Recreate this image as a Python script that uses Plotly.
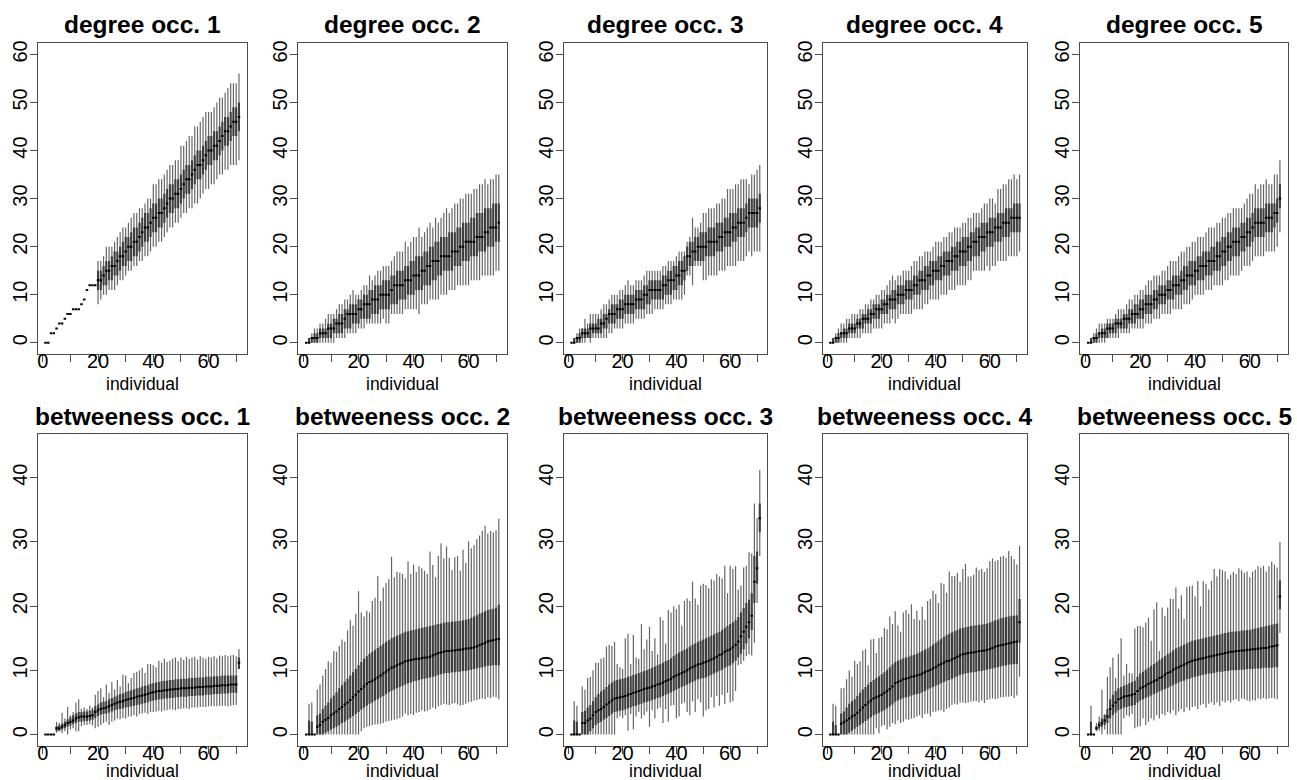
import plotly.graph_objects as go

# ---------------- data ----------------
individual = list(range(1, 72))

titles = ["degree occ. 1", "degree occ. 2", "degree occ. 3", "degree occ. 4", "degree occ. 5",
          "betweeness occ. 1", "betweeness occ. 2", "betweeness occ. 3", "betweeness occ. 4", "betweeness occ. 5"]

x_tickvals = [0, 10, 20, 30, 40, 50, 60, 70]
x_ticktext = ["0", "", "20", "", "40", "", "60", ""]
deg_yticks = [0, 10, 20, 30, 40, 50, 60]
bet_yticks = [0, 10, 20, 30, 40]

# degree occ. 1
d1_med = [0,0,2,2,3,4,4,5,6,6, 7,7,7,8,9,11,12,12,12,13, 13,14,15,15,16,16,17,18,18,19,
          20,20,21,21,22,23,24,24,25,26, 26,27,27,28,29,30,30,31,31,32, 33,34,34,35,36,37,37,38,39,40,
          40,41,41,42,43,44,44,45,46,46, 47]
d1_q1 = [0,0,2,2,3,4,4,5,6,6, 7,7,7,8,9,11,12,12,12,11, 11,12,12,13,13,14,14,15,16,16,
         17,17,18,18,19,20,21,21,22,23, 23,24,24,25,26,27,27,28,28,29, 30,31,31,32,33,34,34,35,36,37,
         37,38,38,39,40,41,41,42,43,43, 44]
d1_q3 = [0,0,2,2,3,4,4,5,6,6, 7,7,7,8,9,11,12,12,12,15, 15,16,17,17,18,19,19,20,21,22,
         22,23,24,24,25,26,27,27,28,29, 29,30,30,31,32,33,33,34,34,35, 36,37,37,38,39,40,40,41,42,43,
         43,44,44,45,46,47,47,48,49,49, 50]
d1_lo = [0,0,2,2,3,4,4,5,6,6, 7,7,7,8,9,11,12,12,12,8, 9,10,10,11,11,11,12,13,13,14,
         15,15,16,16,17,17,18,18,19,20, 20,21,21,22,23,24,24,25,25,26, 27,27,28,28,29,29,30,31,32,32,
         33,33,34,35,35,36,36,37,37,37, 38]
d1_hi = [0,0,2,2,3,4,4,5,6,6, 7,7,7,8,9,11,12,12,12,17, 17,18,20,20,20,21,22,23,24,24,
         25,26,27,27,28,28,29,30,30,33, 33,34,34,35,36,37,37,38,38,41, 41,42,43,43,45,45,46,47,48,48,
         48,49,50,51,51,52,53,54,54,54, 56]

# degree occ. 2
d2_med = [0,0,1,1,1,2,2,2,3,3, 3,4,4,4,5,6,6,6,6,7, 7,8,8,8,9,9,9,10,10,10,
          10,11,12,12,12,12,13,13,13,14, 14,14,15,15,16,16,17,17,17,18, 18,18,18,19,19,19,20,20,21,21,
          21,21,22,22,22,23,23,24,24,24, 25]
d2_q1 = [0,0,0,0,0,1,1,1,1,1, 2,2,2,2,3,3,3,4,4,4, 5,5,5,5,6,6,6,7,7,7,
         7,8,8,8,9,9,9,10,10,10, 11,11,11,12,12,12,13,13,14,14, 15,15,15,15,16,16,16,17,17,17,
         18,18,18,19,19,19,20,20,20,21, 21]
d2_q3 = [0,1,1,2,2,3,3,3,4,4, 5,5,6,6,7,7,8,8,8,9, 9,10,10,11,11,12,12,12,13,13,
         13,14,14,15,15,15,16,16,17,17, 18,18,18,19,19,20,20,21,21,22, 22,22,23,23,23,24,24,25,25,25,
         26,26,27,27,27,28,28,28,29,29, 29]
d2_lo = [0,0,0,0,0,0,0,0,0,0, 0,1,1,1,1,2,2,2,2,3, 3,3,4,4,4,4,4,4,5,4,
         4,6,6,6,6,6,7,7,7,7, 7,6,8,8,8,9,9,9,9,10, 10,10,11,11,11,12,12,12,12,12,
         13,13,13,13,14,14,14,14,14,15, 15]
d2_hi = [0,1,2,3,3,4,4,5,6,6, 6,7,8,8,9,9,10,11,10,10, 11,12,12,14,13,14,15,15,16,16,
         16,17,18,19,19,19,21,20,21,22, 22,24,22,23,24,25,24,26,25,26, 27,28,27,28,29,29,30,30,31,31,
         31,32,32,33,33,34,33,34,34,35, 35]

# degree occ. 3
d3_med = [0,0,1,1,2,2,2,3,3,3, 3,4,4,5,6,6,6,7,7,7, 8,8,8,8,9,9,9,10,10,11,
          11,11,11,11,12,12,13,13,13,14, 14,15,15,18,18,19,19,20,20,20, 20,21,21,21,21,22,22,23,23,23,
          24,24,25,25,25,26,27,27,27,27, 28]
d3_q1 = [0,0,0,0,1,1,1,1,2,2, 2,2,3,3,4,4,4,5,5,5, 6,6,6,6,7,7,7,7,8,8,
         9,9,9,9,9,10,10,10,11,11, 12,12,13,15,16,16,17,17,17,17, 18,18,18,18,19,19,19,20,20,20,
         21,21,22,22,22,23,24,24,24,24, 25]
d3_q3 = [0,1,1,2,3,3,3,4,4,4, 5,5,6,6,7,8,8,8,9,9, 10,10,10,10,11,11,11,12,12,13,
         13,13,13,13,14,14,15,15,16,16, 17,17,18,20,21,21,22,22,23,23, 23,24,24,24,25,25,25,26,26,27,
         27,27,28,28,28,29,30,30,30,30, 31]
d3_lo = [0,0,0,0,0,0,1,0,1,1, 1,1,1,1,2,2,3,3,3,3, 4,4,4,4,5,5,5,5,6,6,
         6,7,7,7,7,8,8,8,9,9, 9,9,10,14,14,12,16,16,16,13, 13,14,14,14,14,15,15,15,16,16,
         16,16,17,17,17,18,19,18,19,19, 19]
d3_hi = [0,1,2,3,3,5,4,6,6,6, 6,7,8,8,9,10,10,10,11,11, 12,13,12,12,13,13,13,14,15,15,
         15,15,15,15,16,16,17,17,17,18, 19,19,19,21,22,26,24,24,25,27, 27,28,28,28,29,29,30,30,32,32,
         32,33,33,34,34,34,33,35,35,36, 37]

# degree occ. 4
d4_med = [0,0,1,1,2,2,2,3,3,3, 4,4,5,5,5,6,6,7,7,7, 8,8,9,9,9,10,10,10,11,11,
          11,12,12,13,13,13,14,14,15,15, 15,16,16,17,17,17,18,18,19,19, 19,20,20,21,21,22,22,22,23,23,
          23,24,24,24,25,25,25,26,26,26, 26]
d4_q1 = [0,0,0,0,1,1,1,2,2,2, 3,3,3,4,4,4,5,5,5,6, 6,6,7,7,7,8,8,8,9,9,
         9,10,10,10,11,11,11,12,12,13, 13,13,14,14,14,15,15,15,16,16, 16,17,17,18,18,18,19,19,20,20,
         20,21,21,21,22,22,22,23,23,23, 23]
d4_q3 = [0,1,1,2,2,3,3,4,4,4, 5,5,6,6,7,7,8,8,8,9, 9,10,10,11,11,12,12,12,13,13,
         13,14,14,15,15,16,16,17,17,17, 18,18,19,19,19,20,20,21,21,22, 22,22,23,23,24,24,25,25,25,26,
         26,26,27,27,27,28,28,28,29,29, 29]
d4_lo = [0,0,0,0,0,0,0,1,1,1, 1,1,2,2,2,2,3,3,3,3, 4,4,4,5,4,5,6,6,6,6,
         6,7,7,7,7,8,8,9,9,9, 9,10,10,10,11,11,11,12,12,12, 12,13,13,15,15,15,15,15,16,15,
         16,16,17,17,17,17,18,18,18,18, 19]
d4_hi = [0,1,2,3,4,4,5,5,6,6, 6,7,7,8,8,9,9,10,10,11, 11,12,13,14,13,14,14,15,15,15,
         16,17,17,18,18,19,19,19,20,21, 21,21,22,22,23,23,24,24,24,25, 25,26,26,27,27,27,28,29,29,30,
         30,29,32,32,33,33,34,34,35,34, 35]

# degree occ. 5
d5_med = [0,0,1,1,2,2,2,3,3,3, 4,4,4,5,5,5,6,6,6,7, 7,8,8,8,9,9,10,10,10,11,
          11,12,12,12,13,13,14,14,14,15, 15,16,16,16,17,17,17,18,18,19, 19,20,20,21,21,21,22,22,23,23,
          24,25,25,25,25,26,26,26,27,27, 30]
d5_q1 = [0,0,0,0,1,1,1,1,2,2, 2,3,3,3,3,4,4,4,5,5, 5,6,6,6,7,7,8,8,8,9,
         9,9,10,10,10,11,11,12,12,12, 13,13,13,14,14,14,15,15,15,16, 16,17,17,18,18,18,19,19,20,20,
         21,22,22,22,22,23,23,23,24,25, 28]
d5_q3 = [0,1,1,2,2,3,3,4,4,4, 5,5,5,6,6,7,7,8,8,9, 9,10,10,10,11,11,12,12,12,13,
         13,14,14,14,15,16,16,17,17,17, 18,18,19,19,19,20,20,21,21,22, 22,23,23,24,24,24,25,25,26,26,
         27,28,28,28,28,29,29,29,29,30, 33]
d5_lo = [0,0,0,0,0,0,0,1,1,1, 1,1,2,2,2,2,3,3,3,3, 3,4,4,4,5,5,5,6,6,6,
         6,7,7,7,7,8,8,8,9,10, 10,10,10,11,11,11,12,12,12,12, 13,13,14,14,14,14,15,16,16,16,
         17,18,18,18,18,19,19,19,19,20, 23]
d5_hi = [0,1,2,3,4,4,4,5,5,5, 6,7,7,7,8,9,9,10,10,11, 11,12,13,13,14,14,14,15,15,16,
         17,17,17,18,19,19,20,20,21,21, 22,22,22,23,24,24,24,25,25,26, 26,27,27,28,28,28,28,29,30,31,
         31,33,32,33,33,34,33,33,35,35, 38]

# betweeness occ. 1
b1_med = [0,0,0,0,1.0,1.0,1.2,1.5,1.8,2.0, 2.2,2.5,2.7,2.8,2.8,2.8,2.9,3.0,3.5,3.8,
          4.0,4.1,4.2,4.4,4.6,4.8,5.0,5.1,5.2,5.4, 5.5,5.6,5.7,5.9,6.0,6.1,6.2,6.3,6.5,6.6,
          6.7,6.8,6.8,6.9,6.9,7.0,7.0,7.1,7.1,7.2, 7.2,7.2,7.3,7.3,7.3,7.4,7.4,7.4,7.5,7.5,
          7.5,7.6,7.6,7.6,7.7,7.7,7.7,7.8,7.8,7.8, 11.2]
b1_q1 = [0,0,0,0,0.5,0.6,0.8,1.0,1.2,1.4, 1.6,1.8,2.0,2.0,2.1,2.1,2.2,2.3,2.6,2.9,
         3.1,3.2,3.3,3.4,3.6,3.8,3.9,4.0,4.1,4.2, 4.3,4.4,4.5,4.6,4.7,4.8,4.9,5.0,5.2,5.3,
         5.4,5.5,5.5,5.6,5.6,5.7,5.7,5.8,5.8,5.9, 5.9,5.9,6.0,6.0,6.0,6.1,6.1,6.1,6.2,6.2,
         6.2,6.3,6.3,6.3,6.4,6.4,6.4,6.5,6.5,6.5, 10.2]
b1_q3 = [0,0,0,0,1.3,1.5,1.7,2.0,2.4,2.7, 3.0,3.3,3.5,3.5,3.6,3.6,3.7,3.9,4.4,4.7,
         5.0,5.1,5.2,5.5,5.7,5.9,6.1,6.3,6.4,6.6, 6.8,6.9,7.0,7.2,7.3,7.5,7.6,7.7,7.9,8.0,
         8.1,8.2,8.3,8.4,8.4,8.5,8.5,8.6,8.6,8.7, 8.7,8.7,8.8,8.8,8.8,8.9,8.9,8.9,9.0,9.0,
         9.0,9.1,9.1,9.1,9.2,9.2,9.2,9.2,9.2,9.2, 12.0]
b1_lo = [0,0,0,0,0.3,0.5,0.2,0.5,0.0,0.8, 1.0,0.5,0.5,1.3,1.5,1.5,1.6,1.4,1.0,1.2,
         1.5,1.8,2.0,1.5,2.0,2.2,2.5,2.4,2.6,2.5, 2.8,2.8,3.0,2.8,3.2,3.3,3.4,3.2,3.5,3.5,
         3.6,3.7,3.6,3.8,3.8,3.9,3.9,3.8,4.0,4.0, 4.1,4.1,4.0,4.2,4.2,4.2,4.3,4.3,4.3,4.4,
         4.4,4.4,4.4,4.5,4.5,4.5,4.4,4.5,4.6,4.6, 10.2]
b1_hi = [0,0,0,0,2.0,1.8,3.4,2.5,4.3,3.0, 3.5,5.0,5.5,4.0,4.2,4.0,4.5,4.2,6.2,6.8,
         7.2,5.8,7.8,6.5,8.2,7.0,8.5,7.5,9.3,9.2, 8.0,8.8,9.6,9.8,10.0,10.4,9.6,11.0,11.0,10.8,
         10.5,11.5,11.2,11.8,11.3,11.5,11.8,12.0,11.4,12.0, 11.6,12.1,11.8,12.0,12.1,11.7,12.2,12.0,11.8,12.1,
         12.0,12.2,11.9,12.3,12.2,12.4,12.2,12.3,12.4,12.2, 13.3]

# betweeness occ. 2
b2_med = [0,0,0,0,1.2,1.5,2.0,2.3,2.6,3.0, 3.3,3.6,4.0,4.3,4.7,5.0,5.4,5.8,6.2,6.7,
          7.1,7.5,7.9,8.2,8.4,8.6,8.9,9.2,9.5,9.8, 10.1,10.4,10.6,10.8,11.0,11.2,11.4,11.5,11.6,11.7,
          11.8,11.8,11.9,12.0,12.0,12.1,12.3,12.5,12.7,12.8, 12.9,13.0,13.0,13.1,13.1,13.2,13.2,13.3,13.4,13.4,
          13.5,13.6,13.7,13.9,14.1,14.3,14.5,14.6,14.7,14.8, 14.9]
b2_q1 = [0,0,0,0,0,0,0,0.3,0.5,0.8, 1.0,1.2,1.5,1.8,2.0,2.3,2.6,2.9,3.2,3.5,
         3.9,4.2,4.5,4.8,5.0,5.3,5.5,5.8,6.0,6.3, 6.6,6.8,7.0,7.2,7.4,7.6,7.8,8.0,8.1,8.3,
         8.4,8.5,8.6,8.7,8.8,8.9,9.0,9.1,9.3,9.4, 9.5,9.6,9.6,9.7,9.7,9.8,9.8,9.9,9.9,10.0,
         10.1,10.2,10.3,10.4,10.5,10.6,10.7,10.7,10.8,10.8, 10.8]
b2_q3 = [0,2.2,2.0,0,3.0,3.3,4.0,4.5,5.0,5.6, 6.1,6.6,7.2,7.7,8.2,8.7,9.2,9.7,10.2,10.8,
         11.3,11.8,12.2,12.6,12.9,13.2,13.5,13.8,14.1,14.4, 14.7,15.0,15.2,15.4,15.6,15.8,16.0,16.1,16.2,16.3,
         16.4,16.5,16.6,16.7,16.8,16.9,17.0,17.1,17.2,17.3, 17.4,17.5,17.5,17.6,17.6,17.7,17.7,17.8,17.9,18.0,
         18.2,18.4,18.6,18.8,19.0,19.2,19.4,19.5,19.6,19.8, 20.2]
b2_lo = [0,0,0,0,0,0,0,0,0,0, 0,0,0,0,0,0,0,0,0,0,
         0.5,1.0,1.2,1.3,1.5,1.6,1.6,1.7,1.8,2.0, 2.1,2.2,2.3,2.4,2.6,2.8,3.3,3.0,3.2,3.0,
         3.4,3.5,3.8,3.6,3.7,3.9,4.2,4.0,4.4,4.6, 4.8,4.7,4.6,4.8,4.9,4.7,4.5,4.6,4.8,5.0,
         5.1,5.3,5.4,5.5,5.6,5.5,5.8,5.7,5.9,5.8, 5.5]
b2_hi = [0,4.8,5.0,0,7.0,7.8,9.2,10.2,11.4,11.2, 13.0,12.9,13.8,14.8,14.5,16.2,17.8,17.0,18.8,22.3,
         19.0,18.4,19.3,19.0,20.8,21.3,24.7,20.8,22.9,23.6, 24.2,27.7,24.5,25.3,25.2,25.0,24.3,27.0,25.0,26.5,
         25.3,26.2,25.9,25.5,25.0,28.5,26.4,24.5,27.8,29.8, 27.4,29.3,27.5,25.6,27.6,27.8,25.5,28.8,26.7,30.1,
         29.0,29.5,30.4,31.0,31.7,32.5,31.3,31.7,31.5,31.8, 33.6]

# betweeness occ. 3
b3_med = [0,0,0,0,1.8,1.8,2.2,2.5,3.0,3.5, 3.8,4.0,4.3,4.7,5.0,5.3,5.6,5.7,5.8,5.9,
          6.0,6.2,6.3,6.5,6.6,6.8,6.9,7.1,7.2,7.3, 7.5,7.6,7.8,7.9,8.1,8.3,8.5,8.7,9.0,9.2,
          9.4,9.6,9.8,10.0,10.3,10.5,10.7,10.9,11.0,11.2, 11.3,11.5,11.7,11.9,12.1,12.4,12.6,12.9,13.1,13.3,
          13.6,14.0,14.5,15.3,16.0,16.8,17.5,18.5,23.8,25.9, 33.7]
b3_q1 = [0,0,0,0,0,0,0,0.5,1.0,1.5, 1.8,2.0,2.3,2.6,2.9,3.2,3.5,3.6,3.7,3.8,
         3.9,4.1,4.2,4.4,4.5,4.7,4.8,5.0,5.1,5.2, 5.4,5.5,5.7,5.8,6.0,6.2,6.4,6.6,6.8,7.0,
         7.2,7.4,7.6,7.8,8.0,8.2,8.4,8.6,8.7,8.8, 8.9,9.1,9.3,9.5,9.7,9.9,10.1,10.4,10.6,10.8,
         11.1,11.5,12.0,12.6,13.3,14.2,15.0,16.3,20.5,23.5, 31.5]
b3_q3 = [0,2.2,2.0,0,3.5,3.7,4.2,4.6,5.2,5.8, 6.3,6.7,7.0,7.4,7.8,8.1,8.4,8.5,8.6,8.7,
         8.8,9.0,9.1,9.3,9.4,9.6,9.7,9.9,10.0,10.2, 10.4,10.6,10.8,11.0,11.2,11.4,11.6,11.9,12.2,12.5,
         12.8,13.0,13.2,13.4,13.7,14.0,14.2,14.4,14.6,14.8, 15.0,15.2,15.4,15.6,15.8,16.0,16.3,16.6,16.9,17.2,
         17.5,17.8,18.3,19.0,19.7,20.5,21.0,22.0,27.8,28.5, 36.0]
b3_lo = [0,0,0,0,0,0,0,0,0,0, 0,0,0,0,0,0,0,2.5,2.8,2.6,
         3.0,0.6,3.2,0.8,2.8,3.5,2.5,3.0,3.6,1.2, 3.8,2.5,4.0,4.2,1.8,4.0,2.0,4.5,4.6,2.5,
         2.8,4.8,5.0,3.5,3.0,5.2,3.5,5.5,5.0,2.8, 3.8,4.0,5.8,4.2,6.0,4.5,6.2,4.8,6.5,5.0,
         5.2,6.8,10.8,11.0,11.5,12.2,12.5,12.3,14.3,20.5, 27.8]
b3_hi = [0,5.2,4.5,0,7.5,7.0,8.8,9.0,10.0,11.2, 11.2,11.8,12.0,13.7,14.0,13.8,14.4,11.0,10.5,10.2,
         15.0,15.7,11.0,15.5,12.0,11.8,17.2,13.3,14.8,16.8, 13.0,15.0,12.5,18.3,17.8,14.2,19.4,19.0,20.0,19.5,
         20.2,17.0,20.8,21.2,20.8,23.8,21.2,20.2,23.2,23.5, 23.3,22.8,24.2,24.0,25.0,24.6,24.3,26.3,22.0,26.3,
         25.8,26.2,22.6,23.2,26.0,26.3,28.4,28.2,36.0,33.7, 41.2]

# betweeness occ. 4
b4_med = [0,0,0,0,1.7,1.9,2.2,2.5,2.8,3.0, 3.4,3.8,4.2,4.6,5.0,5.3,5.6,5.8,6.0,6.2,
          6.5,6.8,7.1,7.5,8.0,8.2,8.4,8.6,8.7,8.8, 9.0,9.1,9.2,9.3,9.5,9.7,9.9,10.1,10.3,10.5,
          10.8,11.0,11.2,11.4,11.5,11.7,11.9,12.1,12.3,12.5, 12.6,12.7,12.8,12.8,12.9,13.0,13.0,13.1,13.2,13.3,
          13.5,13.7,13.8,13.9,14.0,14.1,14.2,14.3,14.4,14.5, 17.5]
b4_q1 = [0,0,0,0,0,0,0,0.3,0.6,0.9, 1.2,1.5,1.8,2.1,2.4,2.7,3.0,3.2,3.4,3.6,
         3.8,4.1,4.4,4.7,5.1,5.3,5.5,5.7,5.8,5.9, 6.1,6.2,6.3,6.4,6.6,6.8,7.0,7.2,7.4,7.6,
         7.8,8.0,8.2,8.4,8.5,8.7,8.9,9.1,9.3,9.4, 9.5,9.6,9.7,9.7,9.8,9.9,9.9,10.0,10.1,10.2,
         10.3,10.4,10.5,10.6,10.7,10.8,10.9,10.9,11.0,11.0, 14.3]
b4_q3 = [0,2.0,1.5,0,3.3,3.6,4.2,4.8,5.2,5.5, 6.0,6.5,7.0,7.4,7.8,8.2,8.5,8.8,9.1,9.4,
         9.7,10.1,10.5,10.9,11.3,11.5,11.7,11.9,12.0,12.1, 12.3,12.4,12.6,12.8,13.0,13.2,13.4,13.7,14.0,14.3,
         14.6,14.9,15.2,15.5,15.7,15.9,16.1,16.3,16.5,16.6, 16.7,16.8,16.9,17.0,17.0,17.1,17.1,17.2,17.3,17.4,
         17.6,17.8,17.9,18.1,18.2,18.3,18.4,18.5,18.5,18.6, 21.1]
b4_lo = [0,0,0,0,0,0,0,0,0,0, 0,0,0,0,0,0,0,1.0,0.2,1.3,
         1.5,0.8,1.2,1.8,1.6,2.2,1.8,2.0,2.4,2.3, 2.5,2.6,2.8,3.0,2.6,3.2,3.3,2.8,3.5,3.6,
         3.7,3.8,3.5,4.0,4.2,4.6,4.8,4.7,5.0,5.0, 4.9,5.0,5.1,5.2,5.2,5.0,5.3,4.9,5.4,5.5,
         5.6,5.5,5.6,5.8,5.8,5.9,5.9,6.0,5.7,6.1, 9.0]
b4_hi = [0,4.8,4.5,0,7.2,7.3,8.6,10.0,9.0,11.5, 11.0,11.4,13.1,13.3,10.8,14.8,14.9,12.7,15.0,15.2,
         16.6,16.4,18.4,17.2,19.2,17.0,16.0,19.0,19.4,18.8, 20.3,18.0,19.3,17.8,19.9,17.9,20.8,21.1,22.4,21.9,
         20.5,23.6,23.4,22.1,25.4,24.7,24.7,25.2,23.8,25.8, 26.6,24.6,24.6,24.9,26.0,25.6,25.8,25.3,25.9,27.0,
         27.4,27.0,27.2,27.7,27.8,27.5,28.6,27.8,27.3,26.5, 29.4]

# betweeness occ. 5
b5_med = [0,0,0,1.0,1.5,1.8,2.2,2.8,4.0,4.5, 5.0,5.5,5.7,5.9,6.0,6.1,6.2,6.3,6.8,7.2,
          7.4,7.6,7.9,8.1,8.3,8.5,8.8,9.0,9.3,9.6, 9.8,10.1,10.3,10.5,10.7,10.9,11.1,11.3,11.5,11.6,
          11.7,11.8,11.9,12.0,12.1,12.2,12.3,12.4,12.5,12.6, 12.7,12.8,12.9,12.9,13.0,13.0,13.1,13.1,13.2,13.2,
          13.3,13.3,13.4,13.4,13.5,13.5,13.6,13.7,13.8,13.9, 21.5]
b5_q1 = [0,0,0,0.7,1.0,1.2,1.5,1.8,2.5,3.0, 3.4,3.8,4.0,4.2,4.3,4.4,4.5,4.6,5.0,5.3,
         5.5,5.7,5.9,6.1,6.3,6.5,6.7,6.9,7.1,7.3, 7.5,7.7,7.9,8.1,8.3,8.4,8.6,8.7,8.9,9.0,
         9.1,9.2,9.3,9.4,9.5,9.5,9.6,9.7,9.8,9.8, 9.9,9.9,10.0,10.0,10.0,10.1,10.1,10.1,10.2,10.2,
         10.2,10.3,10.3,10.3,10.4,10.4,10.4,10.4,10.5,10.5, 19.5]
b5_q3 = [0,2.0,0,1.3,2.0,2.5,3.0,4.0,5.5,6.2, 6.8,7.2,7.4,7.6,7.8,8.0,8.2,8.4,9.0,9.5,
         9.8,10.1,10.4,10.7,11.0,11.3,11.6,11.9,12.2,12.5, 12.8,13.1,13.4,13.6,13.8,14.0,14.2,14.4,14.6,14.7,
         14.8,14.9,15.0,15.1,15.2,15.3,15.4,15.5,15.6,15.7, 15.8,15.9,16.0,16.0,16.1,16.1,16.2,16.2,16.3,16.3,
         16.4,16.5,16.6,16.7,16.8,16.9,17.0,17.1,17.2,17.3, 24.0]
b5_lo = [0,0,0,0.5,0.6,0,0.8,0,0,0, 0,0,0,2.5,3.0,2.8,3.2,1.0,1.2,1.3,
         2.5,1.5,2.0,2.5,2.2,3.0,2.5,3.2,3.0,3.5, 3.3,3.8,3.0,3.6,4.0,3.5,4.2,3.8,4.3,4.4,
         4.0,4.6,4.8,4.2,4.8,5.0,4.6,5.0,4.4,5.2, 5.0,5.3,5.0,5.4,5.5,5.2,5.6,5.5,5.3,5.2,
         5.4,5.3,5.6,5.5,5.7,5.5,5.6,5.7,5.6,5.5, 15.8]
b5_hi = [0,4.5,0,1.8,2.8,7.0,3.2,9.0,10.5,12.0, 8.8,12.6,15.0,9.2,11.0,9.6,9.5,16.5,16.9,16.9,
         16.7,17.4,18.2,14.6,19.5,20.6,13.0,19.8,18.5,19.8, 21.2,21.1,22.9,19.6,21.7,18.0,23.0,23.1,23.2,21.5,
         23.9,20.0,23.9,23.5,22.6,23.9,25.8,24.6,25.8,25.6, 25.4,24.2,24.9,25.3,25.0,25.9,25.6,25.2,25.4,24.5,
         25.4,25.7,26.2,26.0,26.3,25.4,26.2,26.9,26.5,26.0, 30.0]

panels = [
    (d1_lo, d1_q1, d1_med, d1_q3, d1_hi), (d2_lo, d2_q1, d2_med, d2_q3, d2_hi),
    (d3_lo, d3_q1, d3_med, d3_q3, d3_hi), (d4_lo, d4_q1, d4_med, d4_q3, d4_hi),
    (d5_lo, d5_q1, d5_med, d5_q3, d5_hi),
    (b1_lo, b1_q1, b1_med, b1_q3, b1_hi), (b2_lo, b2_q1, b2_med, b2_q3, b2_hi),
    (b3_lo, b3_q1, b3_med, b3_q3, b3_hi), (b4_lo, b4_q1, b4_med, b4_q3, b4_hi),
    (b5_lo, b5_q1, b5_med, b5_q3, b5_hi),
]
for p in panels:
    for arr in p:
        assert len(arr) == len(individual), len(arr)

# ---------------- layout geometry ----------------
W, H = 1297, 780
col_px = [(36.7, 246.0), (297.7, 506.0), (563.3, 767.0), (822.3, 1027.0), (1080.3, 1287.7)]
row_px = [(40.0, 352.7), (432.7, 746.0)]
yranges = [[-2.4, 62.4], [-1.8, 46.8]]
ytickvals = [deg_yticks, bet_yticks]
FONT = "Liberation Sans, Arial, Helvetica, sans-serif"
FRAME = "#4d4d4d"

fig = go.Figure()
layout = dict(width=W, height=H, margin=dict(l=0, r=0, t=0, b=0),
              paper_bgcolor="white", plot_bgcolor="white", showlegend=False,
              font=dict(family=FONT, color="black"))
annotations = []

MED_HALF = 0.45
for k, (lo, q1, med, q3, hi) in enumerate(panels):
    r, c = divmod(k, 5)
    n = k + 1
    xref = "x" if n == 1 else f"x{n}"
    yref = "y" if n == 1 else f"y{n}"

    wx, wy, bx, by, mx, my = [], [], [], [], [], []
    for i, a, b, q_lo, q_hi, m in zip(individual, lo, hi, q1, q3, med):
        wx += [i, i, None]; wy += [a, b, None]
        bx += [i, i, None]; by += [q_lo, q_hi, None]
        mx += [i - MED_HALF, i + MED_HALF, None]; my += [m, m, None]

    fig.add_trace(go.Scatter(x=wx, y=wy, mode="lines", line=dict(color="#666666", width=1.2),
                             xaxis=xref, yaxis=yref, hoverinfo="skip"))
    fig.add_trace(go.Scatter(x=bx, y=by, mode="lines", line=dict(color="#3e3e3e", width=2.1),
                             xaxis=xref, yaxis=yref, hoverinfo="skip"))
    fig.add_trace(go.Scatter(x=mx, y=my, mode="lines", line=dict(color="black", width=2),
                             xaxis=xref, yaxis=yref, hoverinfo="skip"))

    x0, x1 = col_px[c]
    y0, y1 = row_px[r]
    axis_common = dict(showgrid=False, zeroline=False, showline=True, mirror=True,
                       linecolor=FRAME, linewidth=1.3, ticks="outside", ticklen=7,
                       tickcolor=FRAME, tickwidth=1.3,
                       tickfont=dict(family=FONT, size=20, color="black"))
    layout["xaxis" if n == 1 else f"xaxis{n}"] = dict(
        domain=[x0 / W, x1 / W], anchor=yref, range=[-1.84, 73.84],
        tickmode="array", tickvals=x_tickvals, ticktext=x_ticktext,
        ticklabelstandoff=-18, **axis_common)
    layout["yaxis" if n == 1 else f"yaxis{n}"] = dict(
        domain=[1 - y1 / H, 1 - y0 / H], anchor=xref, range=yranges[r],
        tickmode="array", tickvals=ytickvals[r], tickangle=-90,
        ticklabelstandoff=-5, **axis_common)

    cx = (x0 + x1) / 2 / W
    title_y = 22 if r == 0 else 415
    annotations.append(dict(text=f"<b>{titles[k]}</b>", xref="paper", yref="paper",
                            x=cx, y=1 - title_y / H, xanchor="center", yanchor="middle",
                            showarrow=False, font=dict(family=FONT, size=24.5, color="black")))
    lab_y = 382.5 if r == 0 else 771.0
    annotations.append(dict(text="individual", xref="paper", yref="paper",
                            x=cx, y=1 - lab_y / H, xanchor="center", yanchor="middle",
                            showarrow=False, font=dict(family=FONT, size=17.5, color="black")))

layout["annotations"] = annotations
fig.update_layout(**layout)
fig.write_html("out.html", config={"displayModeBar": False},
               post_script="document.body.style.margin='0';document.body.style.overflow='hidden';")
